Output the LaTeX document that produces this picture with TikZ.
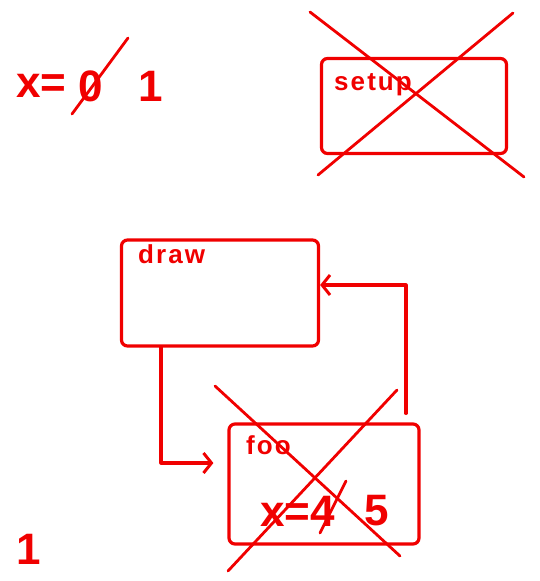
\documentclass[tikz,border=0pt]{standalone}
\usepackage{fontspec}
\setmainfont{Liberation Sans}
\usetikzlibrary{arrows.meta}
\definecolor{ink}{RGB}{240,0,0}
\begin{document}
\begin{tikzpicture}[x=1pt,y=-1pt,
  every node/.style={text=ink,inner sep=0pt},
  sbox/.style={draw=ink,line width=3.2pt,rounded corners=6pt,minimum width=#1},
  sbox/.default=190pt,
  cross/.style={draw=ink,line width=2.8pt,line cap=round},
  conn/.style={draw=ink,line width=3.2pt,line cap=round,line join=round,-{Straight Barb[length=8pt,width=20pt,line width=3pt]}},
  big/.style={font=\fontsize{44}{50}\selectfont\bfseries},
  mid/.style={font=\fontsize{26}{32}\selectfont\bfseries\addfontfeatures{LetterSpace=8}}]
\useasboundingbox (0,0) rectangle (539,581);
% x = 0 1
\node[big,anchor=west] (xeq) at (16,86) {x=};
\node[big,anchor=west] (zero) at (78,86) {0};
\draw[cross] (72,114) -- (128,38);
\node[big,anchor=west] (one) at (138,86) {1};
% setup box
\node[sbox=185pt,minimum height=95pt] (setup) at (414,106) {};
\node[mid,anchor=north west] (setuptxt) at (334,73) {setup};
\draw[cross] (310,12) -- (524,177);
\draw[cross] (318,175) -- (513,13);
% draw box
\node[sbox=197pt,minimum height=106pt] (draw) at (220,293) {};
\node[mid,anchor=north west] (drawtxt) at (138,244) {draw};
% foo box
\node[sbox=190pt,minimum height=120pt] (foo) at (324,484) {};
\node[mid,anchor=north west] (footxt) at (246,435) {foo};
\node[big,anchor=west] (xfour) at (260,511) {x=4};
\draw[cross] (320,533) -- (346,481);
\node[big,anchor=west] (five) at (364,511) {5};
\draw[cross] (215,386) -- (400,556);
\draw[cross] (228,571) -- (397,390);
% connectors
\draw[conn] ([xshift=-59pt]draw.south) |- ([xshift=-14pt,yshift=21pt]foo.west);
\draw[conn] ([xshift=82pt,yshift=9pt]foo.north) |- ([yshift=8pt]draw.east);
% bottom-left 1
\node[big,anchor=west] (onebl) at (16,549) {1};
\end{tikzpicture}
\end{document}
